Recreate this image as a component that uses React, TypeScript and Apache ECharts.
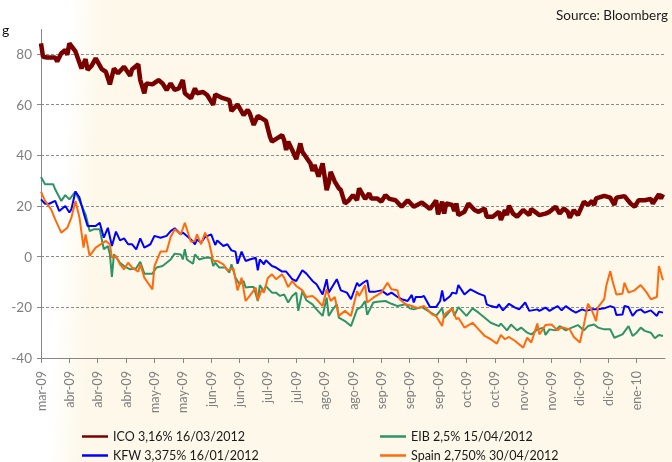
import React, { useEffect, useRef } from 'react';
import * as echarts from 'echarts';

// x values are day offsets from 18/03/2009; axis ticks every 14 days
const tickLabels = ['mar-09', 'abr-09', 'abr-09', 'abr-09', 'may-09', 'may-09', 'jun-09', 'jun-09', 'jul-09', 'jul-09', 'ago-09', 'ago-09', 'sep-09', 'sep-09', 'sep-09', 'oct-09', 'oct-09', 'nov-09', 'nov-09', 'dic-09', 'dic-09', 'ene-10'];
const tickStepDays = 14;
const lastDay = 308;

const seriesNames = ['ICO 3,16% 16/03/2012', 'EIB 2,5% 15/04/2012', 'KFW 3,375% 16/01/2012', 'Spain 2,750% 30/04/2012'];

const icoDays = [0, 1, 3, 7, 8, 10, 12, 13, 14, 17, 20, 22, 23, 25, 27, 30, 32, 34, 36, 38, 41, 44, 45, 48, 49, 51, 52, 55, 58, 60, 62, 64, 66, 68, 70, 71, 74, 76, 77, 80, 82, 85, 86, 89, 93, 94, 97, 100, 102, 103, 105, 107, 111, 113, 114, 119, 120, 121, 122, 124, 126, 128, 129, 133, 134, 135, 137, 139, 141, 142, 143, 145, 147, 148, 150, 152, 154, 156, 157, 160, 162, 163, 166, 168, 170, 172, 175, 178, 181, 184, 188, 192, 195, 196, 198, 199, 200, 203, 204, 205, 206, 209, 211, 214, 216, 219, 220, 223, 226, 227, 229, 230, 231, 233, 235, 238, 241, 242, 246, 249, 251, 254, 256, 258, 260, 261, 263, 265, 268, 270, 272, 273, 274, 278, 281, 283, 284, 288, 291, 293, 295, 298, 301, 302, 305, 306, 307];
const icoValues = [84.2, 78.9, 78.6, 78.6, 77, 80.3, 81.6, 79.7, 84.2, 81, 74.3, 78, 73.7, 75.4, 78.3, 74, 73, 68, 74.3, 72.4, 75, 71.4, 74, 75.9, 69.7, 64.5, 68.4, 68, 69.7, 68.4, 65.8, 68.4, 65.8, 66.4, 69.7, 64.5, 62.5, 66.4, 64.5, 65, 63.8, 59.9, 64, 62.8, 61.8, 57.5, 60.1, 55.9, 57.9, 56.6, 52, 55.6, 53.6, 47.4, 45.4, 48, 46, 42.1, 45.4, 42.1, 38.5, 44.7, 41.4, 36.8, 33.8, 36.2, 31.6, 36.8, 26.3, 29, 33.5, 29.6, 27, 26.3, 21, 22.3, 24.3, 22.3, 27, 22.8, 25, 23, 23, 21.7, 24.3, 22.8, 22.3, 19.7, 22.3, 19.7, 21.4, 18.8, 22.2, 16.7, 21.7, 17, 21, 20.4, 18, 21, 16.4, 17.7, 21, 18.4, 17.7, 19, 15.8, 15.8, 17.7, 14.5, 18.4, 16.4, 20.1, 17, 15.8, 18.4, 16.4, 18.8, 16.4, 17, 17.7, 19.7, 17, 19, 17.7, 15.4, 18.4, 16.4, 21.7, 20.4, 22, 20.4, 23, 24, 23.3, 20.4, 23.3, 23.9, 21, 19.7, 22.3, 22.3, 22.8, 21, 24.6, 23, 24.6];

const eibDays = [0, 2, 6, 7, 10, 12, 14, 17, 19, 22, 24, 26, 29, 31, 33, 34, 35, 36, 39, 41, 44, 47, 49, 51, 55, 57, 60, 64, 66, 69, 70, 71, 72, 75, 76, 78, 81, 84, 85, 86, 88, 91, 93, 94, 96, 98, 100, 101, 103, 105, 107, 108, 110, 111, 114, 116, 118, 120, 122, 124, 126, 127, 129, 131, 134, 136, 139, 141, 142, 144, 146, 147, 150, 153, 156, 158, 160, 161, 164, 166, 170, 173, 176, 180, 182, 184, 188, 191, 195, 198, 199, 202, 203, 204, 206, 210, 213, 216, 219, 222, 226, 227, 230, 232, 235, 237, 240, 242, 245, 248, 249, 251, 254, 256, 259, 262, 265, 268, 270, 273, 275, 278, 281, 283, 287, 290, 292, 294, 296, 298, 301, 303, 305, 307];
const eibValues = [31.4, 28.6, 28.6, 26.6, 22, 24.3, 22.6, 25.7, 22, 16.7, 10.1, 10.8, 10.8, 2.9, 4.2, 0.9, -8, 0.9, -2.4, -3.7, -5, -4.6, -2, -6.7, -6.7, -4.3, -3.7, -1.1, 1.2, 0.9, -1.1, 2.9, -1.1, -2.8, 0.9, -1.1, -0.4, -0.4, -3.7, -2.4, -4.3, -4.3, -6.3, -3, -8.3, -10.9, -9.6, -12.2, -12, -12, -17.5, -11.2, -13.6, -11.6, -14.2, -14.2, -15.5, -14.9, -18.1, -15.5, -14.2, -21.4, -13.6, -17.2, -18.8, -20.8, -23.4, -16.2, -23.4, -20.8, -18.8, -24.1, -25.4, -27.4, -20.8, -19.9, -17.5, -23, -18.1, -17.8, -17.5, -18.6, -19.5, -18.8, -20.4, -20.8, -19.9, -21.4, -23.4, -20.3, -24.1, -21.4, -20.1, -23.4, -19.9, -23.4, -20.4, -22.1, -24.1, -26.1, -27.4, -26.4, -29.1, -26.8, -29.1, -28, -30, -30.7, -28.7, -28, -30.9, -28.7, -29.1, -27.4, -29.1, -28, -27, -29.1, -27.4, -26.8, -28, -28.7, -28.7, -32, -30.7, -27.4, -31.3, -30, -28, -29.3, -30, -32.2, -30.9, -31.3];

const kfwDays = [0, 2, 4, 7, 9, 12, 14, 15, 17, 19, 21, 23, 27, 29, 31, 33, 35, 37, 39, 41, 43, 45, 47, 49, 51, 54, 56, 59, 62, 64, 66, 69, 70, 74, 76, 77, 79, 81, 84, 86, 87, 90, 92, 94, 96, 97, 99, 101, 103, 106, 107, 108, 110, 111, 114, 116, 119, 121, 124, 126, 129, 131, 134, 136, 139, 141, 142, 144, 146, 148, 151, 153, 156, 157, 159, 161, 162, 165, 168, 171, 173, 176, 178, 181, 183, 184, 185, 188, 189, 192, 195, 197, 198, 199, 202, 203, 205, 206, 209, 212, 216, 219, 220, 222, 225, 226, 228, 231, 234, 236, 239, 241, 245, 246, 249, 251, 253, 255, 257, 259, 262, 264, 267, 269, 272, 275, 278, 281, 283, 284, 287, 288, 290, 292, 294, 296, 298, 301, 304, 305, 307];
const kfwValues = [22.6, 20.9, 20.9, 22, 18, 20, 17.4, 18.7, 25.7, 23.3, 17.4, 12.1, 12.1, 13.4, 7.5, 11.4, 4.2, 9.9, 6.4, 7.2, 4.9, 4.9, 2.9, 7.2, 3.6, 4.9, 8.2, 7.5, 8.2, 10.1, 11.2, 8.8, 9.5, 6.8, 4.9, 6.8, 5.5, 7.8, 8.8, 4.6, 6.4, 4.2, 4.9, 2.5, 2, -2.8, 2, -1.7, -1.1, -0.4, -5.4, -1.1, -3, -1.4, -3.7, -4.3, -5.9, -5.9, -8.9, -9.6, -5.4, -6.7, -9.6, -10.9, -14.9, -8.9, -14.2, -11.6, -8.9, -13.3, -14.2, -16.8, -10.3, -11.6, -10.3, -9.3, -13.8, -13.8, -13.3, -15.1, -14.2, -15.9, -16.8, -17.5, -15.1, -18.1, -15.9, -15.9, -15.5, -19.9, -19.9, -17.5, -13.3, -17.5, -15.5, -14.2, -14.6, -11.2, -14.9, -12.9, -14.6, -15.5, -18.8, -19.5, -20.1, -18.8, -21.2, -18.6, -20.1, -20.8, -18.1, -21.4, -20.8, -21.4, -20.1, -21.4, -20.4, -19.5, -21.2, -19.5, -21.2, -22.1, -20.8, -21.4, -20.8, -20.8, -20.4, -19.5, -20.1, -23, -22.8, -19.5, -19.9, -23.4, -21.4, -20.8, -22.1, -21.2, -23.4, -21.7, -22.1];

const spainDays = [0, 2, 5, 7, 10, 13, 15, 17, 19, 21, 22, 24, 27, 32, 34, 35, 37, 39, 41, 43, 45, 48, 49, 51, 55, 56, 59, 62, 64, 66, 69, 71, 74, 76, 77, 79, 81, 83, 85, 87, 90, 92, 95, 97, 99, 101, 103, 106, 107, 109, 110, 112, 114, 116, 119, 120, 122, 124, 126, 129, 131, 134, 136, 139, 141, 143, 145, 147, 150, 153, 156, 157, 160, 161, 164, 168, 171, 173, 176, 177, 180, 183, 186, 189, 193, 195, 198, 199, 203, 205, 206, 209, 213, 216, 219, 222, 225, 227, 229, 231, 234, 238, 240, 242, 245, 246, 249, 252, 255, 257, 261, 263, 266, 268, 270, 272, 274, 275, 278, 279, 281, 282, 284, 287, 288, 290, 293, 296, 299, 301, 304, 305, 307];
const spainValues = [25.7, 22, 18.7, 14.7, 9.5, 11.4, 15.4, 22, 15.4, 3.6, 8.8, 0.3, 3.6, 6.2, 4.9, -0.4, 0.3, -3, -5, -2.4, -4.3, -5.9, -3, -8.3, -12.9, -3.7, 2, 2, 7.8, 10.8, 8.8, 13.4, 5.9, 6.2, 8.8, 4.9, 9.5, 5.5, -1.7, -1.7, -3, -5.4, -4.6, -13.3, -8.3, -17.5, -15.5, -12.2, -17.2, -12.9, -14.2, -8.3, -7, -8.9, -7, -8.3, -12, -9.6, -11.6, -13.3, -15.9, -15.5, -16.8, -19.5, -12.9, -17.5, -15.9, -23.4, -21.4, -23.4, -13.6, -15.5, -11.2, -18.1, -16.2, -14.2, -10.3, -12.9, -13.3, -16.8, -18.8, -19.5, -20.3, -19.5, -22.8, -23.4, -27.4, -22.8, -20.4, -24.7, -24.1, -28, -26.1, -28.7, -31.3, -32.6, -34.3, -30.9, -32.6, -31.7, -33.3, -35.9, -32, -33.9, -26.4, -30.7, -27, -26.8, -29.1, -27.8, -28.7, -31.7, -33.9, -26.8, -18.6, -21.4, -25.4, -19.9, -16.8, -11.6, -5.7, -9.3, -14.9, -14.6, -10.3, -14.2, -13.3, -11.2, -14.2, -16.8, -15.9, -3.7, -9.3];

const seriesColors = ['#7A0000', '#2E9466', '#0000FF', '#FF6A0D'];

const pair = (days: number[], values: number[]) => days.map((d, i) => [d, values[i]]);

export default function App() {
  const ref = useRef<HTMLDivElement>(null);
  useEffect(() => {
    const chart = echarts.init(ref.current as HTMLDivElement, null, { renderer: 'svg' });
    const font = 'Lato, "Open Sans", sans-serif';
    const cream = '#FDF8E9';
    const tickValues = tickLabels.map((_, i) => i * tickStepDays);
    const legendCommon = {
      orient: 'horizontal',
      padding: 0,
      itemWidth: 26,
      itemHeight: 14,
      icon: 'path://M0,6 L26,6 L26,8.5 L0,8.5 Z',
      textStyle: { fontFamily: font, fontSize: 12.5, color: '#1a1a1a' },
    };
    // legend slots, two columns by two rows
    const legendSlots = [
      { left: 82, top: 430 },
      { left: 380, top: 430 },
      { left: 82, top: 449 },
      { left: 380, top: 449 },
    ];
    chart.setOption({
      animation: false,
      graphic: [
        {
          type: 'rect',
          z: -100,
          silent: true,
          shape: { x: 0, y: 0, width: 672, height: 462 },
          style: {
            fill: new echarts.graphic.LinearGradient(0, 0, 672, 34, [
              { offset: 0, color: '#ffffff' },
              { offset: 0.105, color: '#ffffff' },
              { offset: 0.155, color: cream },
              { offset: 1, color: cream },
            ], true),
          },
        },
        { type: 'line', silent: true, shape: { x1: 41.5, y1: 29, x2: 41.5, y2: 54 }, style: { stroke: '#868686', lineWidth: 1 } },
        { type: 'text', left: 2, top: 22, style: { text: 'g', font: `14px ${font}`, fill: '#111' } },
        { type: 'text', right: 4, top: 8, style: { text: 'Source: Bloomberg', font: `13.5px ${font}`, fill: '#1a1a1a' } },
      ],
      grid: { left: 41, right: 7, top: 54, bottom: 104, containLabel: false, outerBoundsMode: 'none' },
      legend: seriesNames.map((name, i) => ({ ...legendCommon, ...legendSlots[i], data: [name] })),
      xAxis: {
        type: 'value',
        min: 0,
        max: lastDay,
        interval: tickStepDays,
        axisLine: { show: true, onZero: false, lineStyle: { color: '#868686', width: 1 } },
        axisTick: { show: true, length: 5, customValues: tickValues, lineStyle: { color: '#868686' } },
        axisLabel: {
          customValues: tickValues,
          rotate: 90,
          margin: 13,
          color: '#7f7f7f',
          fontFamily: font,
          fontSize: 12.5,
          formatter: (v: number) => tickLabels[Math.round(v / tickStepDays)] ?? '',
        },
        splitLine: { show: false },
      },
      yAxis: {
        type: 'value',
        min: -40,
        max: 80,
        interval: 20,
        axisLine: { show: true, onZero: false, lineStyle: { color: '#868686', width: 1 } },
        axisTick: { show: true, length: 4, lineStyle: { color: '#868686' } },
        axisLabel: { color: '#7f7f7f', fontFamily: font, fontSize: 13.5, margin: 9 },
        splitLine: { show: true, lineStyle: { color: '#8c8c8c', type: [3, 2], width: 1 } },
      },
      series: [
        { name: seriesNames[0], type: 'line', data: pair(icoDays, icoValues), symbol: 'none', clip: false, lineStyle: { width: 4.5, color: seriesColors[0] }, itemStyle: { color: seriesColors[0] } },
        { name: seriesNames[1], type: 'line', data: pair(eibDays, eibValues), symbol: 'none', lineStyle: { width: 2, color: seriesColors[1] }, itemStyle: { color: seriesColors[1] } },
        { name: seriesNames[2], type: 'line', data: pair(kfwDays, kfwValues), symbol: 'none', lineStyle: { width: 2, color: seriesColors[2] }, itemStyle: { color: seriesColors[2] } },
        { name: seriesNames[3], type: 'line', data: pair(spainDays, spainValues), symbol: 'none', lineStyle: { width: 2, color: seriesColors[3] }, itemStyle: { color: seriesColors[3] } },
      ],
    });
    return () => chart.dispose();
  }, []);
  return <div ref={ref} style={{ position: 'fixed', left: 0, top: 0, width: 672, height: 462 }} />;
}
